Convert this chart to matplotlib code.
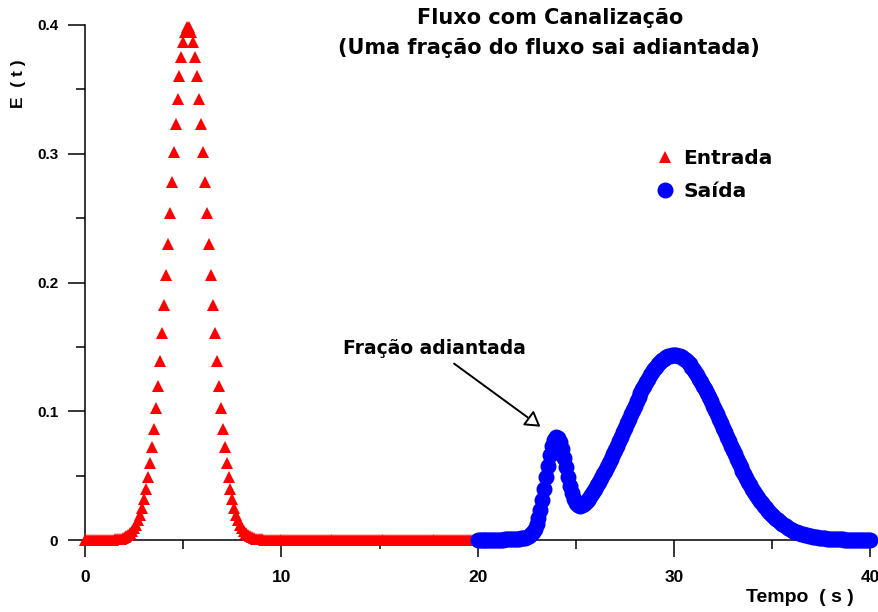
import matplotlib
matplotlib.use("Agg")
import matplotlib.pyplot as plt
from matplotlib.ticker import MultipleLocator

# ---------------- data ----------------
t_entrada_start, t_entrada_step = 0.0, 0.1
entrada = [
    0, 0, 0, 0, 0, 0, 0, 0, 0, 0,
    0, 0, 0, 0.0002, 0.0002, 0.0004, 0.0005, 0.0007, 0.0010, 0.0015,
    0.0020, 0.0028, 0.0038, 0.0051, 0.0069, 0.0091, 0.0119, 0.0154, 0.0198, 0.0252,
    0.0317, 0.0396, 0.0488, 0.0596, 0.0721, 0.0863, 0.1023, 0.1200, 0.1394, 0.1604,
    0.1826, 0.2059, 0.2299, 0.2541, 0.2780, 0.3011, 0.3229, 0.3429, 0.3605, 0.3752,
    0.3866, 0.3944, 0.3984, 0.3984, 0.3944, 0.3866, 0.3752, 0.3605, 0.3429, 0.3229,
    0.3011, 0.2780, 0.2541, 0.2299, 0.2059, 0.1826, 0.1604, 0.1394, 0.1200, 0.1023,
    0.0863, 0.0721, 0.0596, 0.0488, 0.0396, 0.0317, 0.0252, 0.0198, 0.0154, 0.0119,
    0.0091, 0.0069, 0.0051, 0.0038, 0.0028, 0.0020, 0.0015, 0.0010, 0.0007, 0.0005,
    0.0004, 0.0002, 0.0002, 0, 0, 0, 0, 0, 0, 0,
    0, 0, 0, 0, 0, 0, 0, 0, 0, 0,
    0, 0, 0, 0, 0, 0, 0, 0, 0, 0,
    0, 0, 0, 0, 0, 0, 0, 0, 0, 0,
    0, 0, 0, 0, 0, 0, 0, 0, 0, 0,
    0, 0, 0, 0, 0, 0, 0, 0, 0, 0,
    0, 0, 0, 0, 0, 0, 0, 0, 0, 0,
    0, 0, 0, 0, 0, 0, 0, 0, 0, 0,
    0, 0, 0, 0, 0, 0, 0, 0, 0, 0,
    0, 0, 0, 0, 0, 0, 0, 0, 0, 0,
    0, 0, 0, 0, 0, 0, 0, 0, 0, 0,
    0,
]

t_saida_start, t_saida_step = 20.0, 0.1
saida = [
    0.0000, 0.0001, 0.0001, 0.0001, 0.0001, 0.0001, 0.0001, 0.0001, 0.0002, 0.0002,
    0.0002, 0.0003, 0.0003, 0.0003, 0.0004, 0.0004, 0.0005, 0.0006, 0.0007, 0.0008,
    0.0009, 0.0010, 0.0012, 0.0014, 0.0018, 0.0024, 0.0032, 0.0044, 0.0063, 0.0089,
    0.0125, 0.0174, 0.0236, 0.0310, 0.0394, 0.0486, 0.0577, 0.0661, 0.0731, 0.0779,
    0.0801, 0.0795, 0.0762, 0.0708, 0.0640, 0.0565, 0.0489, 0.0422, 0.0365, 0.0321,
    0.0291, 0.0274, 0.0267, 0.0269, 0.0278, 0.0292, 0.0309, 0.0329, 0.0351, 0.0374,
    0.0399, 0.0425, 0.0452, 0.0480, 0.0509, 0.0539, 0.0570, 0.0601, 0.0633, 0.0666,
    0.0699, 0.0733, 0.0767, 0.0801, 0.0836, 0.0871, 0.0906, 0.0941, 0.0975, 0.1009,
    0.1043, 0.1076, 0.1108, 0.1140, 0.1170, 0.1199, 0.1228, 0.1254, 0.1280, 0.1303,
    0.1326, 0.1346, 0.1364, 0.1381, 0.1395, 0.1408, 0.1418, 0.1426, 0.1431, 0.1435,
    0.1436, 0.1435, 0.1431, 0.1426, 0.1418, 0.1408, 0.1395, 0.1381, 0.1364, 0.1346,
    0.1326, 0.1303, 0.1280, 0.1254, 0.1228, 0.1199, 0.1170, 0.1140, 0.1108, 0.1076,
    0.1043, 0.1009, 0.0975, 0.0941, 0.0906, 0.0871, 0.0836, 0.0801, 0.0767, 0.0733,
    0.0699, 0.0666, 0.0633, 0.0601, 0.0570, 0.0539, 0.0509, 0.0480, 0.0452, 0.0425,
    0.0399, 0.0374, 0.0350, 0.0327, 0.0305, 0.0284, 0.0264, 0.0245, 0.0227, 0.0210,
    0.0194, 0.0179, 0.0165, 0.0152, 0.0139, 0.0128, 0.0117, 0.0107, 0.0097, 0.0089,
    0.0081, 0.0073, 0.0066, 0.0060, 0.0054, 0.0049, 0.0044, 0.0040, 0.0036, 0.0032,
    0.0028, 0.0025, 0.0023, 0.0020, 0.0018, 0.0016, 0.0014, 0.0012, 0.0011, 0.0010,
    0.0009, 0.0008, 0.0007, 0.0006, 0.0005, 0.0004, 0.0004, 0.0003, 0.0003, 0.0003,
    0.0002, 0.0002, 0.0002, 0.0001, 0.0001, 0.0001, 0.0001, 0.0001, 0.0001, 0.0001,
    0.0000,
]

x_ticks = [0, 10, 20, 30, 40]
x_tick_labels = ["0", "10", "20", "30", "40"]
y_ticks = [0, 0.1, 0.2, 0.3, 0.4]
y_tick_labels = ["0", "0.1", "0.2", "0.3", "0.4"]

title_lines = ["Fluxo com Canalização", "(Uma fração do fluxo sai adiantada)"]
legend_labels = ["Entrada", "Saída"]
annot_text = "Fração adiantada"
annot_xy = (23.2, 0.088)
annot_xytext = (18.8, 0.137)

t_entrada = [round(t_entrada_start + i * t_entrada_step, 1) for i in range(len(entrada))]
t_saida = [round(t_saida_start + i * t_saida_step, 1) for i in range(len(saida))]

# ---------------- figure ----------------
W, H = 879, 612
fig = plt.figure(figsize=(W / 100, H / 100), dpi=100)
x0, x1, y0, y1 = 85.3, 870.0, 540.0, 25.0
ax = fig.add_axes([x0 / W, 1 - y0 / H, (x1 - x0) / W, (y0 - y1) / H])

ax.plot(t_entrada, entrada, linestyle="none", marker="^", markersize=8.5,
        color="#ff0000", markeredgewidth=0, clip_on=False, zorder=3,
        label=legend_labels[0])
ax.plot(t_saida, saida, linestyle="none", marker="o", markersize=11.5,
        color="#0000ff", markeredgewidth=0, clip_on=False, zorder=4,
        label=legend_labels[1])

ax.set_xlim(0, 40)
ax.set_ylim(0, 0.4)
for s in ("top", "right"):
    ax.spines[s].set_visible(False)
for s in ("left", "bottom"):
    ax.spines[s].set_linewidth(1.1)

ax.set_xticks(x_ticks)
ax.set_xticklabels(x_tick_labels)
ax.set_yticks(y_ticks)
ax.set_yticklabels(y_tick_labels)
ax.xaxis.set_minor_locator(MultipleLocator(5))
ax.yaxis.set_minor_locator(MultipleLocator(0.05))
ax.tick_params(which="major", direction="out", length=12.5, width=1.1)
ax.tick_params(which="minor", direction="out", length=6.5, width=1.1)
ax.tick_params(axis="x", which="major", pad=9)
ax.tick_params(axis="y", which="major", pad=7)

narrow = ["Liberation Sans Narrow", "DejaVu Sans Condensed", "Liberation Sans"]
for lab in ax.get_xticklabels():
    lab.set_family(narrow)
    lab.set_fontweight("bold")
    lab.set_fontsize(12.5)
for lab in ax.get_yticklabels():
    lab.set_family("Liberation Sans")
    lab.set_fontweight("bold")
    lab.set_fontsize(11)

fig.text(18.5 / W, 1 - 84 / H, "E  ( t )", rotation=90, ha="center", va="center",
         family="Liberation Sans", fontweight="bold", fontsize=12.5)
fig.text(800 / W, 1 - 597 / H, "Tempo  ( s )", ha="center", va="center",
         family=narrow, fontweight="bold", fontsize=14)

fig.text(550 / W, 1 - 18 / H, title_lines[0], ha="center", va="center",
         family="DejaVu Sans", fontweight="bold", fontsize=15)
fig.text(549 / W, 1 - 48 / H, title_lines[1], ha="center", va="center",
         family="DejaVu Sans", fontweight="bold", fontsize=15)

ax.annotate("", xy=annot_xy, xytext=annot_xytext,
            arrowprops=dict(arrowstyle="-|>,head_length=0.9,head_width=0.55",
                            mutation_scale=10, fc="white", ec="black", lw=1.4,
                            shrinkA=0, shrinkB=0))
fig.text(343 / W, 1 - 349 / H, annot_text, ha="left", va="center",
         family="DejaVu Sans", fontweight="bold", fontsize=13.5)

leg = ax.legend(loc="upper left", bbox_to_anchor=(657 / W, 1 - 149 / H),
                bbox_transform=fig.transFigure, frameon=False,
                handlelength=0.8, handletextpad=0.5, borderpad=0,
                borderaxespad=0, labelspacing=0.7,
                prop=dict(family="DejaVu Sans", weight="bold", size=14.5))

fig.savefig("out.png", dpi=100)
